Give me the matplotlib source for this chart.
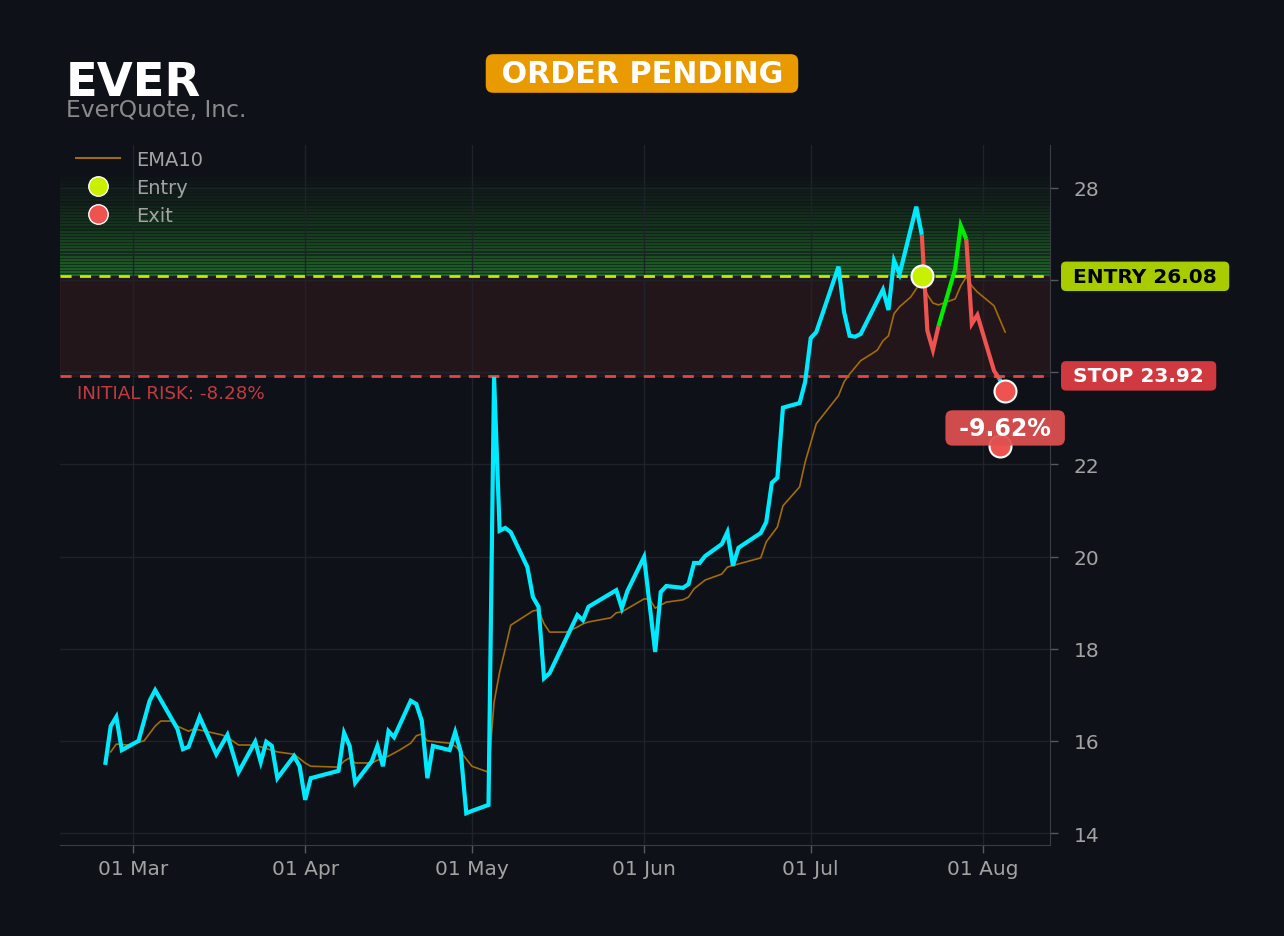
import numpy as np
import pandas as pd
import matplotlib
matplotlib.use('Agg')
import matplotlib.pyplot as plt
import matplotlib.dates as mdates
import matplotlib.transforms as mtransforms
from matplotlib.lines import Line2D


''' Data '''
price_dates = [
    '2026-02-24', '2026-02-25', '2026-02-26', '2026-02-27', '2026-03-02',
    '2026-03-04', '2026-03-05', '2026-03-09', '2026-03-10', '2026-03-11',
    '2026-03-13', '2026-03-16', '2026-03-18', '2026-03-20', '2026-03-23',
    '2026-03-24', '2026-03-25', '2026-03-26', '2026-03-27', '2026-03-30',
    '2026-03-31', '2026-04-01', '2026-04-02', '2026-04-07', '2026-04-08',
    '2026-04-09', '2026-04-10', '2026-04-13', '2026-04-14', '2026-04-15',
    '2026-04-16', '2026-04-17', '2026-04-20', '2026-04-21', '2026-04-22',
    '2026-04-23', '2026-04-24', '2026-04-27', '2026-04-28', '2026-04-29',
    '2026-04-30', '2026-05-01', '2026-05-04', '2026-05-05', '2026-05-06',
    '2026-05-07', '2026-05-08', '2026-05-11', '2026-05-12', '2026-05-13',
    '2026-05-14', '2026-05-15', '2026-05-20', '2026-05-21', '2026-05-22',
    '2026-05-27', '2026-05-28', '2026-05-29', '2026-06-01', '2026-06-03',
    '2026-06-04', '2026-06-05', '2026-06-08', '2026-06-09', '2026-06-10',
    '2026-06-11', '2026-06-12', '2026-06-15', '2026-06-16', '2026-06-17',
    '2026-06-18', '2026-06-22', '2026-06-23', '2026-06-24', '2026-06-25',
    '2026-06-26', '2026-06-29', '2026-06-30', '2026-07-01', '2026-07-02',
    '2026-07-06', '2026-07-07', '2026-07-08', '2026-07-09', '2026-07-10',
    '2026-07-14', '2026-07-15', '2026-07-16', '2026-07-17', '2026-07-20',
    '2026-07-21', '2026-07-22', '2026-07-23', '2026-07-24', '2026-07-27',
    '2026-07-28', '2026-07-29', '2026-07-30', '2026-07-31', '2026-08-03',
    '2026-08-04', '2026-08-05']
price_close = [
    15.48, 16.32, 16.52, 15.80, 16.00,
    16.87, 17.10, 16.26, 15.82, 15.87,
    16.52, 15.71, 16.13, 15.32, 15.98,
    15.54, 15.98, 15.89, 15.19, 15.67,
    15.45, 14.72, 15.19, 15.35, 16.17,
    15.89, 15.09, 15.56, 15.89, 15.45,
    16.21, 16.08, 16.87, 16.80, 16.43,
    15.19, 15.89, 15.80, 16.19, 15.76,
    14.43, 14.48, 14.61, 23.90, 20.56,
    20.62, 20.53, 19.77, 19.12, 18.91,
    17.36, 17.47, 18.73, 18.62, 18.91,
    19.27, 18.88, 19.25, 19.99, 17.93,
    19.23, 19.36, 19.32, 19.40, 19.86,
    19.86, 20.01, 20.27, 20.53, 19.80,
    20.19, 20.51, 20.75, 21.60, 21.71,
    23.23, 23.33, 23.79, 24.74, 24.87,
    26.29, 25.31, 24.79, 24.77, 24.83,
    25.79, 25.35, 26.42, 26.13, 27.59,
    26.98, 24.90, 24.48, 25.00, 26.24,
    27.18, 26.89, 25.05, 25.24, 24.03,
    23.85, 23.59]

ema_dates = [
    '2026-02-25', '2026-02-26', '2026-02-28', '2026-03-03', '2026-03-05',
    '2026-03-06', '2026-03-08', '2026-03-09', '2026-03-11', '2026-03-12',
    '2026-03-14', '2026-03-17', '2026-03-18', '2026-03-20', '2026-03-22',
    '2026-03-24', '2026-03-27', '2026-03-30', '2026-04-01', '2026-04-02',
    '2026-04-07', '2026-04-08', '2026-04-09', '2026-04-10', '2026-04-13',
    '2026-04-14', '2026-04-16', '2026-04-18', '2026-04-20', '2026-04-21',
    '2026-04-22', '2026-04-23', '2026-04-27', '2026-04-28', '2026-04-29',
    '2026-05-01', '2026-05-04', '2026-05-05', '2026-05-06', '2026-05-07',
    '2026-05-08', '2026-05-12', '2026-05-13', '2026-05-14', '2026-05-15',
    '2026-05-18', '2026-05-20', '2026-05-21', '2026-05-22', '2026-05-26',
    '2026-05-27', '2026-05-28', '2026-06-01', '2026-06-02', '2026-06-03',
    '2026-06-05', '2026-06-08', '2026-06-09', '2026-06-10', '2026-06-12',
    '2026-06-15', '2026-06-16', '2026-06-18', '2026-06-22', '2026-06-23',
    '2026-06-25', '2026-06-26', '2026-06-29', '2026-06-30', '2026-07-02',
    '2026-07-06', '2026-07-07', '2026-07-08', '2026-07-10', '2026-07-12',
    '2026-07-13', '2026-07-14', '2026-07-15', '2026-07-16', '2026-07-17',
    '2026-07-19', '2026-07-20', '2026-07-21', '2026-07-22', '2026-07-23',
    '2026-07-24', '2026-07-27', '2026-07-28', '2026-07-29', '2026-07-30',
    '2026-07-31', '2026-08-03', '2026-08-05']
ema_values = [
    15.76, 15.93, 15.91, 16.00, 16.32,
    16.43, 16.43, 16.32, 16.21, 16.26,
    16.21, 16.13, 16.08, 15.91, 15.91,
    15.87, 15.76, 15.71, 15.52, 15.45,
    15.43, 15.56, 15.63, 15.52, 15.52,
    15.58, 15.67, 15.80, 15.95, 16.11,
    16.15, 16.00, 15.95, 15.89, 15.76,
    15.45, 15.32, 16.84, 17.49, 17.99,
    18.51, 18.82, 18.84, 18.54, 18.36,
    18.36, 18.47, 18.54, 18.58, 18.67,
    18.78, 18.80, 19.08, 19.08, 18.88,
    19.01, 19.06, 19.12, 19.30, 19.49,
    19.62, 19.77, 19.84, 19.97, 20.32,
    20.64, 21.10, 21.51, 22.05, 22.88,
    23.49, 23.79, 23.96, 24.25, 24.40,
    24.48, 24.68, 24.79, 25.27, 25.42,
    25.63, 25.81, 25.98, 25.68, 25.50,
    25.46, 25.59, 25.87, 26.07, 25.87,
    25.74, 25.44, 24.87]

# trade path colouring
segment_starts = ['2026-02-24', '2026-07-21', '2026-07-24', '2026-07-29', '2026-08-04']
segment_ends = ['2026-07-21', '2026-07-24', '2026-07-29', '2026-08-04', '2026-08-05']
segment_colors = ['#00eaff', '#ef5350', '#00ee00', '#ef5350', '#00eaff']

ticker = 'EVER'
company = 'EverQuote, Inc.'
status = 'ORDER PENDING'
entry_price = 26.08
stop_price = 23.92
target_top = 28.25
entry_date = '2026-07-21'
exit_dates = ['2026-08-05', '2026-08-04']
exit_prices = [23.59, 22.40]
trade_return = '-9.62%'
initial_risk = 'INITIAL RISK: -8.28%'

''' Style '''
bg = '#0e1117'
grid_col = '#1e2229'
tick_col = '#a3a3a3'

price = pd.Series(price_close, index=pd.to_datetime(price_dates))
ema = pd.Series(ema_values, index=pd.to_datetime(ema_dates))

fig = plt.figure(figsize=(12.84, 9.37), dpi=100, facecolor=bg)
ax = fig.add_axes([0.0467, 0.0971, 0.7710, 0.7471], facecolor=bg)

''' Zones '''
nbands = 32
edges = np.linspace(entry_price, target_top, nbands + 1)
step = edges[1] - edges[0]
for i in range(nbands):
    alpha = 0.48 * (1 - i / nbands) ** 1.3 + 0.03
    ax.axhspan(edges[i], edges[i] + step * 0.62, color='#30b035',
               alpha=alpha, lw=0)
    ax.axhspan(edges[i] + step * 0.62, edges[i + 1], color='#30b035',
               alpha=alpha * 0.45, lw=0)
ax.axhspan(stop_price, entry_price, facecolor='#e04848', alpha=0.10,
           edgecolor='#e04848', lw=0.8)

ax.axhline(entry_price, color='#c8e600', lw=2, ls=(0, (4, 3)), zorder=3)
ax.axhline(stop_price, color='#e04848', lw=2, ls=(0, (4, 3)), zorder=3)

''' Lines '''
ax.plot(ema.index, ema.values, color='#a06c0c', lw=1.2, zorder=4)
for s, e, c in zip(segment_starts, segment_ends, segment_colors):
    part = price[pd.Timestamp(s):pd.Timestamp(e)]
    ax.plot(part.index, part.values, color=c, lw=3.0, zorder=5,
            solid_joinstyle='miter', solid_capstyle='butt')

ax.scatter(pd.to_datetime([entry_date]), [entry_price], s=250, color='#c8f000',
           edgecolor='white', lw=1.5, zorder=7)
ax.scatter(pd.to_datetime(exit_dates), exit_prices, s=250, color='#ef5350',
           edgecolor='white', lw=1.5, zorder=7)

''' Axes '''
ax.set_xlim(pd.Timestamp('2026-03-01') - pd.Timedelta(days=13.14),
            pd.Timestamp('2026-08-01') + pd.Timedelta(days=12.06))
ax.set_ylim(13.74, 28.93)
ax.yaxis.tick_right()
ax.set_yticks(np.arange(14, 29, 2))
ax.xaxis.set_major_locator(mdates.MonthLocator())
ax.xaxis.set_major_formatter(mdates.DateFormatter('%d %b'))
ax.tick_params(axis='both', colors='#555a60', labelcolor=tick_col,
               labelsize=14.5, length=6, width=1)
ax.tick_params(axis='y', pad=11)
ax.tick_params(axis='x', pad=4)
ax.grid(True, color=grid_col, lw=1)
for side in ['left', 'top']:
    ax.spines[side].set_visible(False)
for side in ['right', 'bottom']:
    ax.spines[side].set_color('#3a3d44')

''' Labels '''
trans = mtransforms.blended_transform_factory(ax.transAxes, ax.transData)
ax.text(1.0165, entry_price, f' ENTRY {entry_price:.2f} ', transform=trans,
        fontsize=14.5, fontweight='bold', color='black', va='center',
        ha='left', zorder=10,
        bbox=dict(boxstyle='round,pad=0.26,rounding_size=0.25',
                  fc='#a8cc00', ec='none'))
ax.text(1.0165, stop_price, f' STOP {stop_price:.2f} ', transform=trans,
        fontsize=14.5, fontweight='bold', color='white', va='center',
        ha='left', zorder=10,
        bbox=dict(boxstyle='round,pad=0.26,rounding_size=0.25',
                  fc='#d0393f', ec='none'))
ax.text(pd.Timestamp('2026-08-05'), 22.79, f' {trade_return} ', fontsize=17,
        fontweight='bold', color='white', va='center', ha='center', zorder=10,
        bbox=dict(boxstyle='round,pad=0.24,rounding_size=0.3',
                  fc='#e05050', ec='none', alpha=0.93))
ax.text(0.017, stop_price - 0.17, initial_risk, transform=trans,
        fontsize=13.2, color='#c23b40', va='top', ha='left', zorder=10)

handles = [
    Line2D([0], [0], color='#a06c0c', lw=1.5),
    Line2D([0], [0], marker='o', ls='none', markersize=14,
           markerfacecolor='#c8f000', markeredgecolor='white'),
    Line2D([0], [0], marker='o', ls='none', markersize=14,
           markerfacecolor='#ef5350', markeredgecolor='white'),
]
leg = ax.legend(handles, ['EMA10', 'Entry', 'Exit'], loc='upper left',
                bbox_to_anchor=(0.002, 1.012), frameon=False, fontsize=14,
                labelcolor=tick_col, borderaxespad=0.3, handlelength=2.3,
                labelspacing=0.45)
leg.set_zorder(12)

fig.text(0.0514, 0.8975, ticker, fontsize=33.5, fontweight='bold',
         color='white', va='baseline', ha='left')
fig.text(0.0514, 0.8751, company, fontsize=16.8, color='#8a8a8a',
         va='baseline', ha='left')
fig.text(0.5, 0.9205, f' {status} ', fontsize=21.7, fontweight='bold',
         color='white', va='center', ha='center',
         bbox=dict(boxstyle='round,pad=0.16,rounding_size=0.25',
                   fc='#e89a00', ec='none'))

plt.savefig('out.png', dpi=100, facecolor=bg)
plt.close(fig)
